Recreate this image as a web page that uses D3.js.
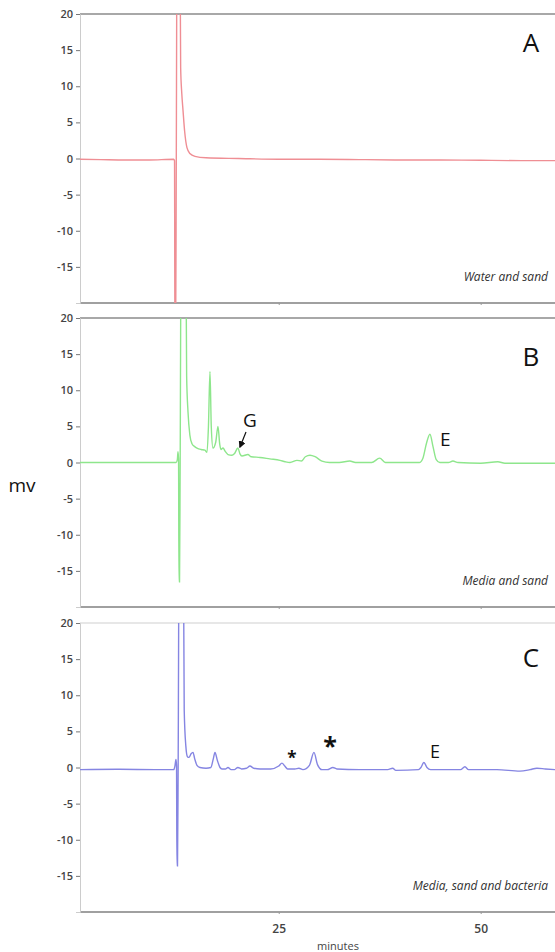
<html>
<head>
  <meta charset="utf-8">
  <title>Chromatograms</title>
  <script src="https://d3js.org/d3.v7.min.js"></script>
  <style>
    body { margin: 0; background: white; }
    text { font-family: "Open Sans", sans-serif; }
  </style>
</head>
<body>
<div id="chart"></div>
<script>

    // [minutes, mv]
    var traceA = [[0.4,-0.1],[3,-0.15],[6,-0.2],[9,-0.2],[12.0,-0.1],[12.1,-0.3],[12.16,-30],[12.22,-30],
        [12.32,0],[12.45,45],[12.7,45],[12.86,12.6],[13.0,9],[13.15,6.7],[13.35,3.8],[13.64,1.5],[14.0,0.7],
        [14.63,0.3],[16,0.1],[20,0],[25,-0.1],[30,-0.1],[35,-0.15],[40,-0.2],[45,-0.2],[50,-0.25],[55,-0.3],[59.2,-0.3]];

    var traceB = [[0.4,0],[5,0],[10,0],[12.3,0],[12.45,0.4],[12.53,1.5],[12.6,0.5],[12.65,-16.5],[12.72,-16.5],
        [12.8,0],[12.95,40],[13.45,40],[13.6,12],[13.77,7],[14.0,3.8],[14.26,2.6],[14.6,2.2],[14.88,2.0],
        [15.4,1.8],[15.87,1.7],[16.12,1.4],[16.3,5],[16.49,12.6],[16.65,5],[16.86,2.0],[17.2,2.8],[17.48,5.0],
        [17.7,2.5],[17.85,1.8],[18.1,2.0],[18.4,1.5],[18.72,1.1],[19.2,1.0],[19.5,1.2],[19.95,2.0],[20.2,1.2],
        [20.45,0.9],[21.19,1.1],[21.6,0.8],[22.68,0.7],[23.9,0.5],[25.15,0.3],[25.8,0.1],[26.4,0.0],[27.26,0.3],
        [27.8,0.2],[28.3,0.8],[28.87,1.0],[29.5,0.8],[30.35,0.2],[31.3,0.0],[32.5,0.0],[33.8,0.2],[34.5,0.0],
        [36.5,0.0],[37.5,0.6],[38.2,0.0],[40,0],[42.4,0.0],[42.85,0.6],[43.3,2.7],[43.72,3.9],[44.1,2.2],
        [44.5,0.4],[44.95,0.0],[46.0,0.0],[46.56,0.2],[47.2,0.0],[50,-0.1],[52.13,0.1],[53,-0.1],[56,-0.1],[59.2,-0.1]];

    var traceC = [[0.4,-0.3],[5,-0.25],[10,-0.3],[12.0,-0.3],[12.15,0.2],[12.28,1.1],[12.35,0.2],[12.4,-13.6],
        [12.47,-13.6],[12.55,0],[12.7,40],[13.15,40],[13.3,8],[13.5,3],[13.7,1.5],[13.89,1.4],[14.15,1.9],
        [14.39,2.1],[14.6,1.2],[14.88,0.3],[15.25,0.0],[16.0,-0.1],[16.6,0.0],[16.9,1.2],[17.11,2.1],[17.4,1.0],
        [17.73,0.0],[17.97,-0.2],[18.4,-0.2],[18.72,0.0],[19.1,-0.3],[19.5,-0.3],[19.95,0.0],[20.4,-0.2],
        [21.0,-0.1],[21.44,0.2],[21.9,-0.1],[22.7,-0.2],[24.0,-0.2],[25.0,0.2],[25.4,0.6],[25.75,0.2],
        [26.1,-0.2],[27,-0.2],[27.5,-0.1],[28,-0.3],[28.8,0.3],[29.36,2.1],[29.8,0.4],[30.35,-0.3],[31.0,-0.3],
        [31.71,0.0],[32.2,-0.2],[35,-0.3],[38.5,-0.3],[39.1,-0.1],[39.5,-0.4],[42.3,-0.3],[42.6,0.0],
        [42.97,0.7],[43.35,0.0],[43.8,-0.3],[46,-0.3],[47.5,-0.3],[48.05,0.1],[48.5,-0.3],[52,-0.3],
        [54.86,-0.5],[56.1,-0.3],[56.96,-0.1],[58,-0.2],[59.2,-0.3]];

    var panelNames = ["A", "B", "C"];
    var panelNotes = ["Water and sand", "Media and sand", "Media, sand and bacteria"];
    var panelColors = ["#ef8e94", "#8ee68c", "#8585e2"];
    var yTicks = [20, 15, 10, 5, 0, -5, -10, -15];
    var xTicks = [25, 50];

    var width = 555, height = 952;
    var left = 80, panelH = 289;
    var panelTops = [14, 318, 623];
    var letterY = [52, 366, 667];

    var svg = d3.select("#chart").append("svg")
        .attr("width", width)
        .attr("height", height);

    var x = d3.scaleLinear().domain([0.4, 59.2]).range([left, width]);

    var line = d3.line()
        .x(d => x(d[0]))
        .curve(d3.curveMonotoneX);

    [traceA, traceB, traceC].forEach(function(trace, i) {
        var top = panelTops[i];
        var y = d3.scaleLinear().domain([-20, 20]).range([top + panelH, top]);

        var g = svg.append("g");

        svg.append("clipPath").attr("id", "clip" + i)
            .append("rect")
            .attr("x", left).attr("y", top)
            .attr("width", width - left).attr("height", panelH);

        // frame: top, bottom, left
        g.append("line")
            .attr("x1", left).attr("x2", width).attr("y1", top).attr("y2", top)
            .style("stroke", i == 2 ? "#cfcfcf" : "#a8a8a8")
            .style("stroke-width", i == 2 ? 1.2 : 2);
        g.append("line")
            .attr("x1", left).attr("x2", width).attr("y1", top + panelH).attr("y2", top + panelH)
            .style("stroke", "#a0a0a0")
            .style("stroke-width", 2);

        var yAxis = g.append("g")
            .attr("transform", "translate(" + left + ",0)")
            .call(d3.axisLeft(y).tickValues(yTicks).tickFormat(d => String(d)).tickSize(4).tickPadding(3));
        yAxis.select(".domain").style("stroke", "#cccccc");
        yAxis.selectAll(".tick line").style("stroke", "#777");
        yAxis.selectAll("text")
            .style("font-family", "'Open Sans', sans-serif")
            .style("font-size", "11px")
            .style("font-weight", 600)
            .style("fill", "#444");

        var xAxis = g.append("g")
            .attr("transform", "translate(0," + (top + panelH) + ")")
            .call(d3.axisBottom(x).tickValues(xTicks).tickSize(2).tickPadding(10));
        xAxis.select(".domain").remove();
        xAxis.selectAll(".tick line").style("stroke", "#999");
        xAxis.selectAll("text")
            .style("font-family", "'Open Sans', sans-serif")
            .style("font-size", "12px")
            .style("font-weight", 600)
            .style("fill", "#444")
            .style("display", i == 2 ? null : "none");

        g.append("path")
            .datum(trace)
            .attr("clip-path", "url(#clip" + i + ")")
            .attr("d", line.y(d => y(d[1])))
            .style("fill", "none")
            .style("stroke", panelColors[i])
            .style("stroke-width", 1.4);

        g.append("text")
            .attr("x", 531).attr("y", letterY[i])
            .attr("text-anchor", "middle")
            .style("font-size", "26px")
            .style("fill", "#111")
            .text(panelNames[i]);

        g.append("text")
            .attr("x", 548).attr("y", top + panelH - 22)
            .attr("text-anchor", "end")
            .style("font-size", "12px")
            .style("font-style", "italic")
            .style("fill", "#333")
            .text(panelNotes[i]);
    });

    // annotations in B
    svg.append("defs").append("marker")
        .attr("id", "head")
        .attr("viewBox", "0 0 10 10")
        .attr("refX", 8).attr("refY", 5)
        .attr("markerWidth", 6).attr("markerHeight", 6)
        .attr("orient", "auto")
        .append("path")
        .attr("d", "M0,0 L10,5 L0,10 z")
        .style("fill", "#111");

    svg.append("text").attr("x", 250).attr("y", 427)
        .attr("text-anchor", "middle")
        .style("font-size", "19px").style("fill", "#111")
        .text("G");
    svg.append("line")
        .attr("x1", 246).attr("y1", 432).attr("x2", 240).attr("y2", 447)
        .style("stroke", "#111").style("stroke-width", 1.2)
        .attr("marker-end", "url(#head)");
    svg.append("text").attr("x", 440).attr("y", 446)
        .style("font-size", "19px").style("fill", "#111")
        .text("E");

    // annotations in C
    svg.append("text").attr("x", 292).attr("y", 764)
        .attr("text-anchor", "middle")
        .style("font-size", "17px").style("font-weight", 700).style("fill", "#111")
        .text("*");
    svg.append("text").attr("x", 330).attr("y", 755)
        .attr("text-anchor", "middle")
        .style("font-size", "25px").style("font-weight", 700).style("fill", "#111")
        .text("*");
    svg.append("text").attr("x", 430).attr("y", 758)
        .style("font-size", "18px").style("fill", "#111")
        .text("E");

    svg.append("text").attr("x", 22).attr("y", 492)
        .attr("text-anchor", "middle")
        .style("font-size", "19px").style("fill", "#111")
        .text("mv");

    svg.append("text").attr("x", 338).attr("y", 950)
        .attr("text-anchor", "middle")
        .style("font-size", "11px").style("fill", "#444")
        .text("minutes");

</script>
</body>
</html>
